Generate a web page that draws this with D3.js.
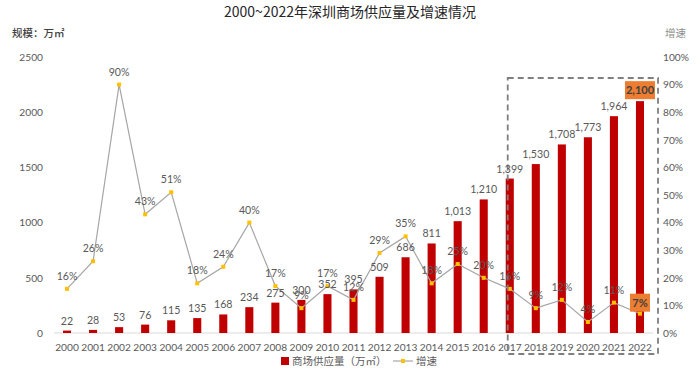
<!DOCTYPE html>
<html>
<head>
<meta charset="utf-8">
<script src="https://cdn.jsdelivr.net/npm/d3@7"></script>
<style>
  body { margin: 0; background: #fff; }
  text { font-family: Lato, "Noto Sans CJK SC", sans-serif; }
  .cjk { font-family: "Noto Sans CJK SC", sans-serif; }
</style>
</head>
<body>
<div id="chart"></div>
<script>
const years = ["2000","2001","2002","2003","2004","2005","2006","2007","2008","2009","2010","2011",
  "2012","2013","2014","2015","2016","2017","2018","2019","2020","2021","2022"];
const supply = [22, 28, 53, 76, 115, 135, 168, 234, 275, 300, 352, 395, 509, 686, 811, 1013, 1210,
  1399, 1530, 1708, 1773, 1964, 2100];
const growth = [16, 26, 90, 43, 51, 18, 24, 40, 17, 9, 17, 12, 29, 35, 18, 25, 20, 16, 9, 12, 4, 11, 7];
const leftTicks = [0, 500, 1000, 1500, 2000, 2500];
const rightTicks = [0, 10, 20, 30, 40, 50, 60, 70, 80, 90, 100];
const highlightFrom = "2017";

const width = 700, height = 374;
const margin = {top: 57, right: 47, bottom: 41, left: 54};
const numSize = "10.2px";

const svg = d3.select("#chart").append("svg")
  .attr("width", width)
  .attr("height", height);

const x = d3.scaleBand()
  .domain(years)
  .range([margin.left, width - margin.right])
  .paddingInner(0.69)
  .paddingOuter(0.345);

const yLeft = d3.scaleLinear().domain([0, 2500]).range([height - margin.bottom, margin.top]);
const yRight = d3.scaleLinear().domain([0, 100]).range([height - margin.bottom, margin.top]);

const textColor = "#595959";

// title
svg.append("text")
  .attr("class", "cjk")
  .attr("x", 350).attr("y", 17)
  .attr("text-anchor", "middle")
  .style("font-size", "14px")
  .style("fill", "#262626")
  .text("2000~2022年深圳商场供应量及增速情况");

svg.append("text")
  .attr("class", "cjk")
  .attr("x", 12).attr("y", 37)
  .style("font-size", "10.5px")
  .style("font-weight", "500")
  .style("fill", "#404040")
  .text("规模：万㎡");

svg.append("text")
  .attr("class", "cjk")
  .attr("x", 686).attr("y", 37)
  .attr("text-anchor", "end")
  .style("font-size", "10.5px")
  .style("fill", "#8c8c8c")
  .text("增速");

// left axis
const axL = svg.append("g")
  .attr("transform", `translate(${margin.left - 11},0)`)
  .call(d3.axisLeft(yLeft).tickValues(leftTicks).tickFormat(d3.format("d")).tickSize(0).tickPadding(0));
axL.select(".domain").remove();
axL.selectAll("text").style("font-size", numSize).style("fill", textColor);

// right axis
const axR = svg.append("g")
  .attr("transform", `translate(${width - margin.right + 10},0)`)
  .call(d3.axisRight(yRight).tickValues(rightTicks).tickFormat(d => d + "%").tickSize(0).tickPadding(0));
axR.select(".domain").remove();
axR.selectAll("text").style("font-size", numSize).style("fill", textColor);

// baseline
svg.append("line")
  .attr("x1", margin.left).attr("x2", width - margin.right)
  .attr("y1", yLeft(0)).attr("y2", yLeft(0))
  .attr("stroke", "#d9d9d9").attr("stroke-width", 1);

// x labels
svg.append("g").selectAll("text")
  .data(years)
  .join("text")
  .attr("x", d => x(d) + x.bandwidth() / 2)
  .attr("y", yLeft(0) + 18)
  .attr("text-anchor", "middle")
  .style("font-size", numSize)
  .style("fill", textColor)
  .text(d => d);

// bars
svg.append("g").selectAll("rect")
  .data(supply)
  .join("rect")
  .attr("x", (d, i) => x(years[i]))
  .attr("y", d => yLeft(d))
  .attr("width", x.bandwidth())
  .attr("height", d => yLeft(0) - yLeft(d))
  .attr("fill", "#c00000");

// line
const line = d3.line()
  .x((d, i) => x(years[i]) + x.bandwidth() / 2)
  .y(d => yRight(d));

svg.append("path")
  .datum(growth)
  .attr("d", line)
  .attr("fill", "none")
  .attr("stroke", "#a6a6a6")
  .attr("stroke-width", 1.2);

svg.append("g").selectAll("rect")
  .data(growth)
  .join("rect")
  .attr("x", (d, i) => x(years[i]) + x.bandwidth() / 2 - 2)
  .attr("y", d => yRight(d) - 2)
  .attr("width", 4).attr("height", 4)
  .attr("fill", "#ffc000");

// dashed highlight box
const hx0 = x(highlightFrom) + 2;
const hx1 = x(years[years.length - 1]) + x.bandwidth() + 14;
svg.append("rect")
  .attr("x", hx0).attr("y", 78)
  .attr("width", hx1 - hx0).attr("height", 276)
  .attr("fill", "none")
  .attr("stroke", "#7f7f7f")
  .attr("stroke-width", 1.8)
  .attr("stroke-dasharray", "6,4");

// bar labels
const last = supply.length - 1;
svg.append("g").selectAll("text")
  .data(supply)
  .join("text")
  .attr("x", (d, i) => x(years[i]) + x.bandwidth() / 2)
  .attr("y", d => yLeft(d) - 6)
  .attr("text-anchor", "middle")
  .style("font-size", "10.6px")
  .style("fill", textColor)
  .text((d, i) => i === last ? "" : d3.format(",")(d));

// growth labels
svg.append("g").selectAll("text")
  .data(growth)
  .join("text")
  .attr("x", (d, i) => x(years[i]) + x.bandwidth() / 2)
  .attr("y", d => yRight(d) - 9)
  .attr("text-anchor", "middle")
  .style("font-size", "10.6px")
  .style("fill", textColor)
  .text((d, i) => i === last ? "" : d + "%");

// highlighted last values
const lastX = x(years[last]) + x.bandwidth() / 2;
const hl = [
  {text: d3.format(",")(supply[last]), cy: yLeft(supply[last]) - 11, w: 30},
  {text: growth[last] + "%", cy: yRight(growth[last]) - 11, w: 20}
];
hl.forEach(h => {
  svg.append("rect")
    .attr("x", lastX - h.w / 2).attr("y", h.cy - 9)
    .attr("width", h.w).attr("height", 18)
    .attr("fill", "#ed7d31");
  svg.append("text")
    .attr("x", lastX).attr("y", h.cy + 4)
    .attr("text-anchor", "middle")
    .style("font-size", "11px")
    .style("font-weight", "bold")
    .style("fill", "#404040")
    .text(h.text);
});

// legend
const lg = svg.append("g").attr("transform", "translate(281,361)");
lg.append("rect").attr("x", 0).attr("y", -4).attr("width", 8).attr("height", 8).attr("fill", "#c00000");
lg.append("text").attr("class", "cjk").attr("x", 11).attr("y", 4)
  .style("font-size", "10.5px").style("fill", textColor)
  .text("商场供应量（万㎡）");
lg.append("line").attr("x1", 112).attr("x2", 132).attr("y1", 0).attr("y2", 0)
  .attr("stroke", "#a6a6a6").attr("stroke-width", 1.2);
lg.append("rect").attr("x", 120).attr("y", -2).attr("width", 4).attr("height", 4).attr("fill", "#ffc000");
lg.append("text").attr("class", "cjk").attr("x", 135).attr("y", 4)
  .style("font-size", "10.5px").style("fill", textColor)
  .text("增速");
</script>
</body>
</html>
